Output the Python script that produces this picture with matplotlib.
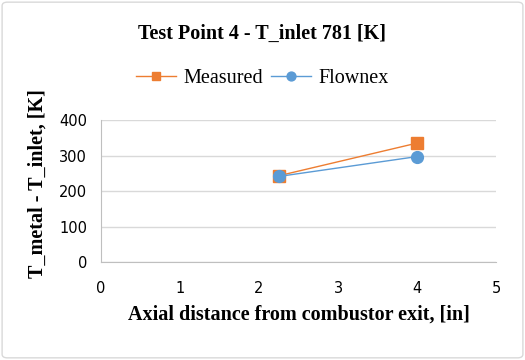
import matplotlib
matplotlib.use("Agg")
import matplotlib.pyplot as plt
from matplotlib.patches import FancyBboxPatch

# data
x_pos = [2.25, 4.0]
measured = [243, 335]
flownex = [241, 297]

fig = plt.figure(figsize=(5.25, 3.6), dpi=100)
ax = fig.add_axes([0.1924, 0.2722, 0.7524, 0.3944])

ax.plot(x_pos, measured, color="#ED7D31", marker="s", markersize=8, lw=1, label="Measured", zorder=3)
ax.plot(x_pos, flownex, color="#5B9BD5", marker="o", markersize=8.5, lw=1, label="Flownex", zorder=3)

ax.set_xlim(0, 5)
ax.set_ylim(0, 400)
ax.set_xticks(range(0, 6))
ax.set_yticks(range(0, 401, 100))
ax.grid(axis="y", color="#D9D9D9", lw=1)
ax.set_axisbelow(True)
for s in ["top", "right"]:
    ax.spines[s].set_visible(False)
for s in ["left", "bottom"]:
    ax.spines[s].set_color("#BFBFBF")
ax.tick_params(axis="both", length=0, labelsize=10.5)
ax.tick_params(axis="y", pad=10)
ax.tick_params(axis="x", pad=14)
for t in ax.get_xticklabels() + ax.get_yticklabels():
    t.set_fontfamily("DejaVu Sans")

ax.set_xlabel("Axial distance from combustor exit, [in]", fontfamily="Liberation Serif",
              fontweight="bold", fontsize=14.5, labelpad=6)
fig.text(0.072, 0.49, "T_metal - T_inlet, [K]", rotation=90, ha="center", va="center",
         fontfamily="Liberation Serif", fontweight="bold", fontsize=14.5)
fig.text(0.5, 0.905, "Test Point 4 - T_inlet 781 [K]", ha="center", va="center",
         fontfamily="Liberation Serif", fontweight="bold", fontsize=14.5)

fig.legend(loc="center", bbox_to_anchor=(0.5, 0.783), ncol=2, frameon=False,
           prop={"family": "Liberation Serif", "size": 14.5}, handlelength=2.0,
           columnspacing=0.4, handletextpad=0.35, borderpad=0, markerscale=0.75)

border = FancyBboxPatch((0.004, 0.006), 0.992, 0.988, boxstyle="round,pad=0,rounding_size=0.01",
                        transform=fig.transFigure, fill=False, edgecolor="#D9D9D9", lw=1)
fig.patches.append(border)

fig.savefig("out.png", dpi=100)
